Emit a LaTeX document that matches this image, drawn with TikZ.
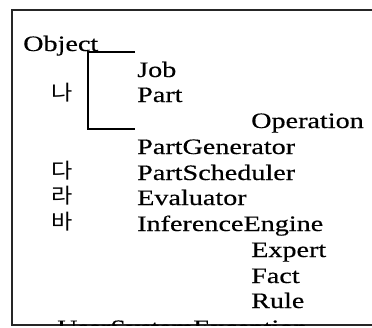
\documentclass[tikz,border=0pt]{standalone}
\usepackage{fontspec}
\setmainfont{Liberation Serif}[FakeStretch=1.28,FakeBold=0.4]
\newfontfamily\kfont{Noto Sans CJK KR}[FakeStretch=1.1]
\begin{document}
\begin{tikzpicture}[x=1pt,y=-1pt,
  cls/.style={anchor=base west, inner sep=0pt, font=\fontsize{22}{22}\selectfont},
  kor/.style={anchor=base west, inner sep=0pt, font=\fontsize{21}{21}\kfont},
  frameline/.style={draw=black!85, line width=1.3pt},
  tree/.style={draw=black, line width=1.4pt}]
\useasboundingbox (0,0) rectangle (372,327);
% frame
\coordinate (ftr) at (372,10);
\coordinate (ftl) at (12,10);
\coordinate (fbl) at (12,325);
\coordinate (fbr) at (372,325);
\draw[frameline] (ftr) -- (ftl) -- (fbl) -- (fbr);
% class names
\node[cls] (object) at (23,51) {Object};
\node[cls] (job) at (137,77) {Job};
\node[cls] (part) at (137,102) {Part};
\node[cls] (operation) at (251,128) {Operation};
\node[cls] (partgen) at (137,154) {PartGenerator};
\node[cls] (partsch) at (137,180) {PartScheduler};
\node[cls] (evaluator) at (137,205) {Evaluator};
\node[cls] (infeng) at (137,231) {InferenceEngine};
\node[cls] (expert) at (251,257) {Expert};
\node[cls] (fact) at (251,283) {Fact};
\node[cls] (rule) at (251,308) {Rule};
\begin{scope}
\clip (12,10) rectangle (372,325);
\node[cls] (usx) at (57,335) {UserSystemException};
\end{scope}
% korean labels
\node[kor] (na) at (51,100) {나};
\node[kor] (da) at (51,178) {다};
\node[kor] (ra) at (51,203) {라};
\node[kor] (ba) at (51,229) {바};
% tree connector
\coordinate (t1) at (135,52);
\coordinate (t2) at (88,52);
\coordinate (t3) at (135,129);
\draw[tree] (t1) -- (t2) |- (t3);
\end{tikzpicture}
\end{document}
